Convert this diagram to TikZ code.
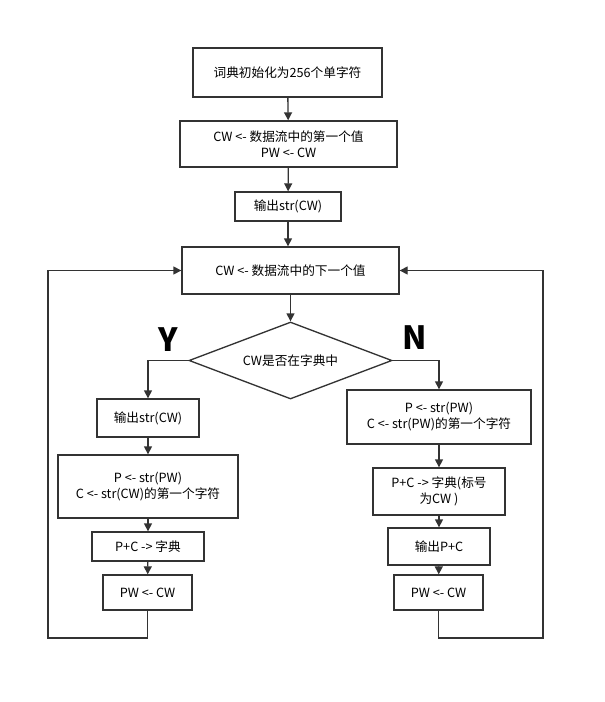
\documentclass[tikz,border=0pt]{standalone}
\usepackage{fontspec}
\setmainfont{Noto Sans CJK SC}
\usetikzlibrary{shapes.geometric,arrows.meta}
\begin{document}
\begin{tikzpicture}[x=0.75pt,y=-0.75pt,
  bx/.style={draw=black!80,line width=1pt,minimum width=#1,inner sep=0pt,align=center,font=\fontsize{9.5}{12}\selectfont},
  ar/.style={-{Triangle[length=6pt,width=6pt]},line width=1pt,draw=black!80},
  ln/.style={line width=1pt,draw=black!80},
  yn/.style={font=\fontsize{24}{24}\selectfont\bfseries}]
\useasboundingbox (0,0) rectangle (605,702);
\node[bx=189*0.75pt,minimum height=49*0.75pt] (a) at (287.5,72.5) {词典初始化为256个单字符};
\node[bx=217*0.75pt,minimum height=46*0.75pt] (b) at (288.5,144) {CW <- 数据流中的第一个值\\PW <- CW};
\node[bx=106*0.75pt,minimum height=29*0.75pt] (c) at (288,206.5) {输出str(CW)};
\node[bx=217*0.75pt,minimum height=47*0.75pt] (d) at (290.5,270.5) {CW <- 数据流中的下一个值};
\node[draw=black!80,line width=1pt,diamond,aspect=2.64,minimum width=203*0.75pt,minimum height=77*0.75pt,inner sep=0pt,font=\fontsize{9.5}{12}\selectfont] (e) at (290.5,360.5) {CW是否在字典中};
\node[yn] (y) at (168,340) {Y};
\node[yn] (n) at (415,338) {N};
\node[bx=102*0.75pt,minimum height=38*0.75pt] (l1) at (148,418) {输出str(CW)};
\node[bx=180*0.75pt,minimum height=63*0.75pt] (l2) at (148,486.5) {P <- str(PW)\\C <- str(CW)的第一个字符};
\node[bx=112*0.75pt,minimum height=29*0.75pt] (l3) at (148,546.5) {P+C -> 字典};
\node[bx=89*0.75pt,minimum height=35*0.75pt] (l4) at (147.5,592.5) {PW <- CW};
\node[bx=184*0.75pt,minimum height=54*0.75pt] (r1) at (439,417) {P <- str(PW)\\C <- str(PW)的第一个字符};
\node[bx=132*0.75pt,minimum height=47*0.75pt] (r2) at (439,491.5) {P+C -> 字典(标号\\为CW )};
\node[bx=102*0.75pt,minimum height=37*0.75pt] (r3) at (439,546.5) {输出P+C};
\node[bx=89*0.75pt,minimum height=35*0.75pt] (r4) at (438.5,592.5) {PW <- CW};
\draw[ar] (a) -- (b);
\draw[ar] (b) -- (c);
\draw[ar] (c.south) -- (c.south |- d.north);
\draw[ar] (d.south) -- (d.south |- e.north);
\draw[ar] (e.west) -| (l1.north);
\draw[ar] (e.east) -| (r1.north);
\draw[ar] (l1) -- (l2);
\draw[ar] (l2) -- (l3);
\draw[ar] (l3) -- (l4);
\draw[ar] (r1) -- (r2);
\draw[ar] (r2) -- (r3);
\draw[ar] (r3) -- (r4);
\coordinate (lb) at (48,638);
\coordinate (rb) at (543,638);
\draw[ar] (l4.south) |- (lb) |- (d.west);
\draw[ar] (r4.south) |- (rb) |- (d.east);
\end{tikzpicture}
\end{document}
